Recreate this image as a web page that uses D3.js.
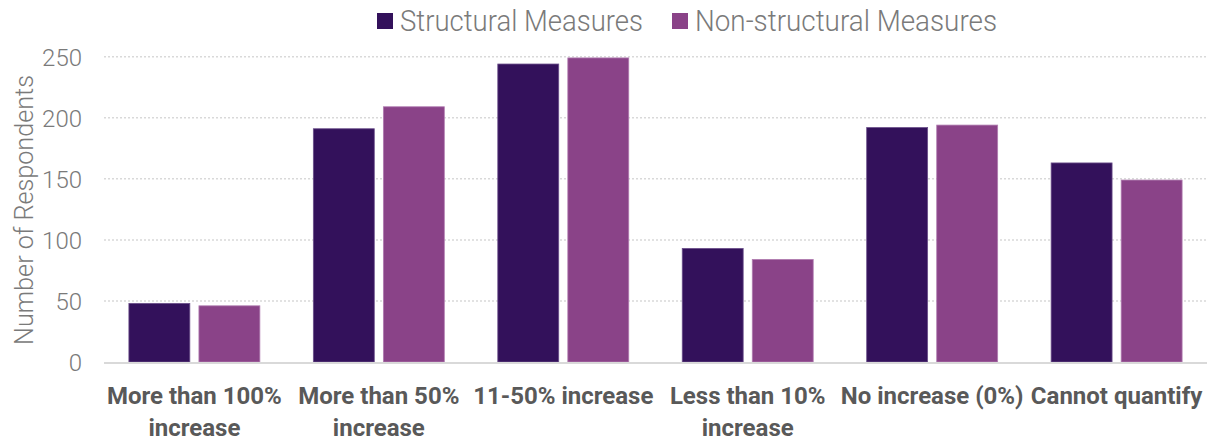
<!DOCTYPE html>
<html>
<head>
<meta charset="utf-8">
<script src="https://cdn.jsdelivr.net/npm/d3@7"></script>
<style>
  html, body { margin: 0; padding: 0; background: #fff; }
  svg { display: block; }
</style>
</head>
<body>
<svg id="chart" width="1207" height="442"></svg>
<script>
// Survey responses: expected increase in cost, by type of measure
const categories = [
  ["More than 100%", "increase"],
  ["More than 50%", "increase"],
  ["11-50% increase"],
  ["Less than 10%", "increase"],
  ["No increase (0%)"],
  ["Cannot quantify"]
];
const seriesNames = ["Structural Measures", "Non-structural Measures"];
const structural = [48, 191, 244, 93, 192, 163];
const nonStructural = [46, 209, 249, 84, 194, 149];
const yTicks = [0, 50, 100, 150, 200, 250];
const colors = ["#33115B", "#8A4388"];

const svg = d3.select("#chart");
const W = 1207, H = 442;
const margin = { left: 104, right: 0, top: 57, bottom: 80 };
const baseY = 362;

const x0 = d3.scaleBand()
  .domain(d3.range(categories.length))
  .range([margin.left, W - margin.right])
  .paddingInner(0.29)
  .paddingOuter(0.135);

const x1 = d3.scaleBand()
  .domain([0, 1])
  .range([0, x0.bandwidth()])
  .paddingInner(0.13);

const y = d3.scaleLinear().domain([0, 250]).range([baseY, 56.7]);

const lightFont = "Roboto, 'Helvetica Neue', Arial, sans-serif";
const boldFont = "Roboto, Arial, sans-serif";

// Horizontal dotted gridlines
svg.append("g")
  .selectAll("line")
  .data(yTicks.filter(t => t > 0))
  .join("line")
  .attr("x1", margin.left)
  .attr("x2", W)
  .attr("y1", d => y(d))
  .attr("y2", d => y(d))
  .attr("stroke", "#d9d9d9")
  .attr("stroke-width", 1.5)
  .attr("stroke-dasharray", "2,2");

// Y axis tick labels
const yAxis = d3.axisLeft(y).tickValues(yTicks).tickSize(0).tickPadding(0);
const gy = svg.append("g")
  .attr("transform", `translate(82,0)`)
  .call(yAxis);
gy.select(".domain").remove();
gy.selectAll("text")
  .attr("font-family", lightFont)
  .attr("font-weight", 300)
  .attr("font-size", 24)
  .attr("fill", "#7a7a7a")
  .attr("dy", "0.35em");

// Y axis title
svg.append("text")
  .attr("transform", `translate(33,${210}) rotate(-90)`)
  .attr("text-anchor", "middle")
  .attr("font-family", lightFont)
  .attr("font-weight", 300)
  .attr("font-size", 25)
  .attr("fill", "#7a7a7a")
  .attr("textLength", 270)
  .attr("lengthAdjust", "spacingAndGlyphs")
  .text("Number of Respondents");

// Bars
const series = [structural, nonStructural];
const groups = svg.append("g")
  .selectAll("g")
  .data(categories.map((c, i) => i))
  .join("g")
  .attr("transform", i => `translate(${x0(i)},0)`);

groups.selectAll("rect")
  .data(i => series.map((s, k) => ({ k, v: s[i] })))
  .join("rect")
  .attr("x", d => x1(d.k))
  .attr("width", x1.bandwidth())
  .attr("y", d => y(d.v))
  .attr("height", d => baseY - y(d.v))
  .attr("fill", d => colors[d.k])
  .attr("stroke", d => d.k === 0 ? "#6b4f8a" : "#b07cb0")
  .attr("stroke-width", 0.8);

// Baseline
svg.append("line")
  .attr("x1", margin.left)
  .attr("x2", W)
  .attr("y1", baseY + 1)
  .attr("y2", baseY + 1)
  .attr("stroke", "#d9d9d9")
  .attr("stroke-width", 2);

// Category labels (wrapped onto two lines where needed)
const xl = svg.append("g");
categories.forEach((lines, i) => {
  const cx = x0(i) + x0.bandwidth() / 2;
  const t = xl.append("text")
    .attr("x", cx)
    .attr("y", 404)
    .attr("text-anchor", "middle")
    .attr("font-family", boldFont)
    .attr("font-weight", 700)
    .attr("font-size", 24)
    .attr("fill", "#595959");
  lines.forEach((ln, j) => {
    t.append("tspan")
      .attr("x", cx)
      .attr("dy", j === 0 ? 0 : 32)
      .text(ln);
  });
});

// Legend
const legendItems = [
  { name: seriesNames[0], color: colors[0], x: 377, len: 243 },
  { name: seriesNames[1], color: colors[1], x: 672, len: 302 }
];
const lg = svg.append("g");
legendItems.forEach(it => {
  lg.append("rect")
    .attr("x", it.x)
    .attr("y", 13)
    .attr("width", 16)
    .attr("height", 16)
    .attr("fill", it.color);
  lg.append("text")
    .attr("x", it.x + 23)
    .attr("y", 30.5)
    .attr("font-family", lightFont)
    .attr("font-weight", 300)
    .attr("font-size", 29)
    .attr("fill", "#7a7a7a")
    .attr("textLength", it.len)
    .attr("lengthAdjust", "spacingAndGlyphs")
    .text(it.name);
});
</script>
</body>
</html>
